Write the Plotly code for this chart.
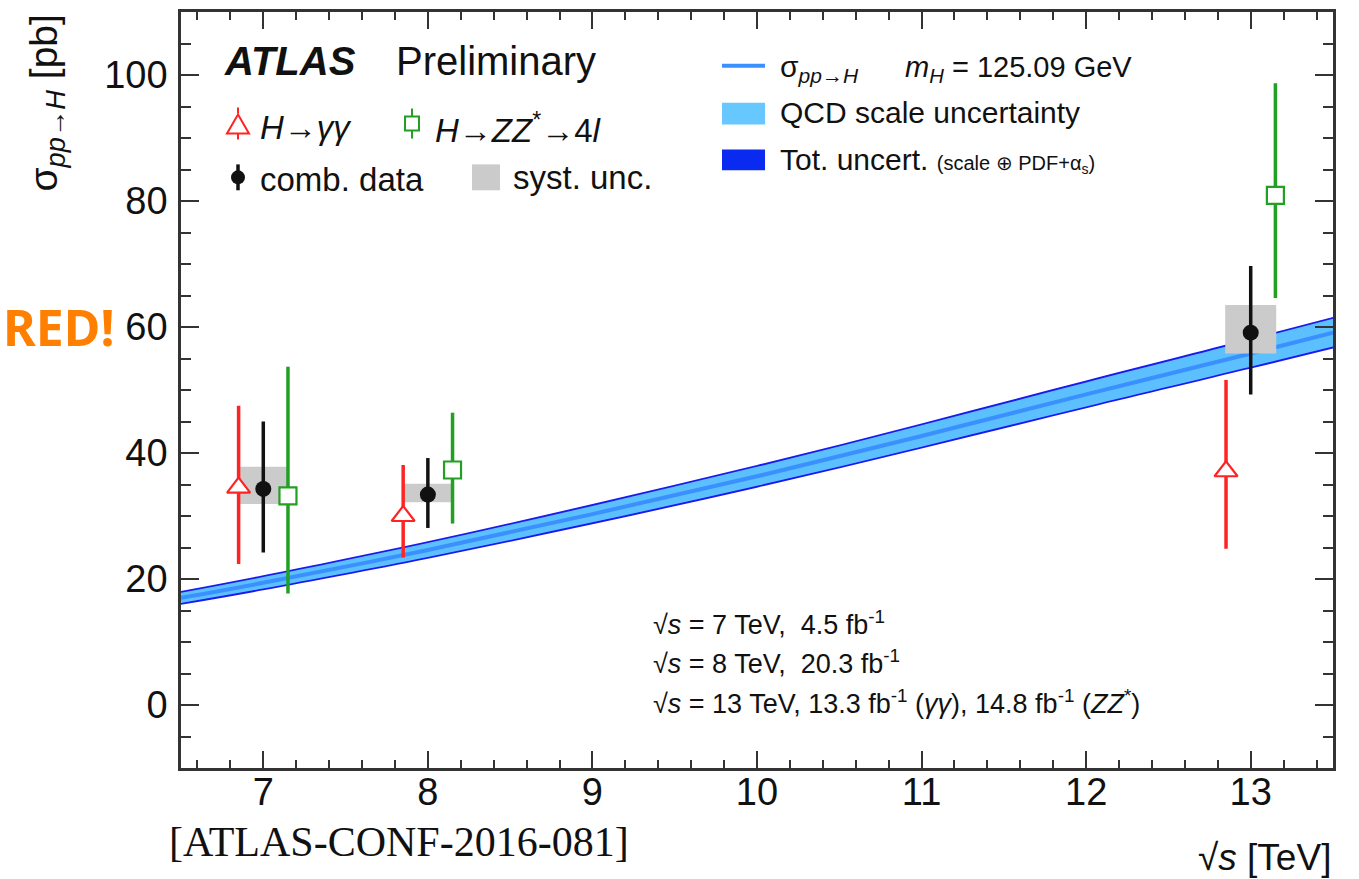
import plotly.graph_objects as go

# ---------------- data ----------------
energies = [7, 8, 13]                      # sqrt(s) [TeV]

comb_xsec = [34.3, 33.4, 59.1]             # combined data [pb]
comb_hi = [45.0, 39.2, 69.7]
comb_lo = [24.2, 28.1, 49.3]
syst_hi = [37.8, 35.1, 63.5]
syst_lo = [31.9, 32.2, 55.8]

gg_xsec = [34.5, 30.0, 37.1]               # H -> gamma gamma
gg_hi = [47.5, 38.1, 51.6]
gg_lo = [22.4, 23.4, 24.8]

zz_xsec = [33.2, 37.3, 80.9]               # H -> ZZ* -> 4l
zz_hi = [53.7, 46.4, 98.7]
zz_lo = [17.7, 28.8, 64.6]

theory_sqrts = [6.5, 7, 8, 9, 10, 11, 12, 13, 13.5]
theory_xsec = [17.0, 19.4, 24.6, 30.3, 36.3, 42.7, 49.3, 55.8, 59.1]
theory_tot_unc = [1.1, 1.2, 1.4, 1.6, 1.8, 2.0, 2.2, 2.4, 2.5]
theory_scale_unc = [0.8, 0.9, 1.1, 1.3, 1.5, 1.7, 1.9, 2.1, 2.2]

x_tick_vals = [7, 8, 9, 10, 11, 12, 13]
y_tick_vals = [0, 20, 40, 60, 80, 100]

# ---------------- style ----------------
OFFSET = 0.15
BOX_HALF = 0.155
RED = "#ff2424"
GREEN = "#22a022"
BLACK = "#111111"
GREY = "#cbcbcb"
DARKBLUE = "#1a1af0"
LIGHTBLUE = "#5cc0ff"
MIDBLUE = "#3a90ff"
FONT = "Liberation Sans, Arial, sans-serif"
AXCOL = "#333333"

W, H = 1359, 879
L, R, T, B = 181, 26, 9, 111
PW, PH = W - L - R, H - T - B


def px(xp):
    return (xp - L) / PW


def py(yp):
    return (H - B - yp) / PH


fig = go.Figure()

# theory band
tot_lo = [c - u for c, u in zip(theory_xsec, theory_tot_unc)]
tot_up = [c + u for c, u in zip(theory_xsec, theory_tot_unc)]
sc_lo = [c - u for c, u in zip(theory_xsec, theory_scale_unc)]
sc_up = [c + u for c, u in zip(theory_xsec, theory_scale_unc)]

common = dict(mode="lines", showlegend=False, hoverinfo="skip")
fig.add_trace(go.Scatter(x=theory_sqrts, y=tot_lo, line=dict(width=0, shape="spline"), **common))
fig.add_trace(go.Scatter(x=theory_sqrts, y=tot_up, fill="tonexty", fillcolor=DARKBLUE,
                         line=dict(width=0, shape="spline"), **common))
fig.add_trace(go.Scatter(x=theory_sqrts, y=sc_lo, line=dict(width=0, shape="spline"), **common))
fig.add_trace(go.Scatter(x=theory_sqrts, y=sc_up, fill="tonexty", fillcolor=LIGHTBLUE,
                         line=dict(width=0, shape="spline"), **common))
fig.add_trace(go.Scatter(x=theory_sqrts, y=theory_xsec, line=dict(width=4, color=MIDBLUE, shape="spline"),
                         **common))

# systematic boxes
bx, by = [], []
for e, lo, hi in zip(energies, syst_lo, syst_hi):
    bx += [e - BOX_HALF, e + BOX_HALF, e + BOX_HALF, e - BOX_HALF, e - BOX_HALF, None]
    by += [lo, lo, hi, hi, lo, None]
fig.add_trace(go.Scatter(x=bx, y=by, fill="toself", fillcolor=GREY, mode="lines",
                         line=dict(width=0, color=GREY), showlegend=False, hoverinfo="skip"))


def meas_trace(xs, ys, his, los, color, symbol, size, lw):
    return go.Scatter(
        x=xs, y=ys, mode="markers", showlegend=False,
        marker=dict(symbol=symbol, size=size, color="white" if lw else color,
                    line=dict(color=color, width=lw)),
        error_y=dict(type="data", symmetric=False,
                     array=[h - y for h, y in zip(his, ys)],
                     arrayminus=[y - l for l, y in zip(los, ys)],
                     color=color, thickness=3.5, width=0),
    )


fig.add_trace(meas_trace([e - OFFSET for e in energies], gg_xsec, gg_hi, gg_lo, RED, "triangle-up", 20, 2.2))
fig.add_trace(meas_trace([e + OFFSET for e in energies], zz_xsec, zz_hi, zz_lo, GREEN, "square", 17, 2.2))
fig.add_trace(meas_trace(energies, comb_xsec, comb_hi, comb_lo, BLACK, "circle", 16, 0))

# ---------------- axes ----------------
axis_common = dict(showline=True, linecolor=AXCOL, linewidth=2.5, mirror="allticks",
                   ticks="inside", tickcolor=AXCOL, tickwidth=2, showgrid=False, zeroline=False,
                   tickfont=dict(family=FONT, size=38, color=BLACK))
fig.update_xaxes(range=[6.5, 13.5], tickvals=x_tick_vals, ticklen=17, ticklabelstandoff=-11,
                 minor=dict(dtick=0.2, tick0=0, ticklen=8, tickwidth=2, tickcolor=AXCOL, ticks="inside"),
                 **axis_common)
fig.update_yaxes(range=[-10, 110], tickvals=y_tick_vals, ticklen=18, ticklabelstandoff=3,
                 minor=dict(dtick=5, tick0=0, ticklen=10, tickwidth=2, tickcolor=AXCOL, ticks="inside"),
                 **axis_common)

# ---------------- legend keys (decoration, paper coordinates) ----------------
shapes = []


def rect(x0, y0, x1, y1, fill, line=None, lw=0):
    shapes.append(dict(type="rect", xref="paper", yref="paper", x0=px(x0), x1=px(x1), y0=py(y1), y1=py(y0),
                       fillcolor=fill, line=dict(width=lw, color=line or fill), layer="above"))


def seg(x0, y0, x1, y1, color, w):
    shapes.append(dict(type="line", xref="paper", yref="paper", x0=px(x0), x1=px(x1), y0=py(y0), y1=py(y1),
                       line=dict(color=color, width=w), layer="above"))


# H->gg triangle
seg(238, 105, 238, 111, RED, 2)
seg(238, 131, 238, 137, RED, 2)
shapes.append(dict(type="path", xref="paper", yref="paper",
                   path=f"M {px(227)},{py(131)} L {px(249)},{py(131)} L {px(238)},{py(112)} Z",
                   fillcolor="white", line=dict(color=RED, width=2), layer="above"))
# H->ZZ square
seg(412, 106, 412, 114, GREEN, 2)
seg(412, 128, 412, 136, GREEN, 2)
rect(405, 114, 419, 128, "white", GREEN, 2)
# comb data dot
seg(238, 162, 238, 188, BLACK, 3.5)
shapes.append(dict(type="circle", xref="paper", yref="paper", x0=px(231), x1=px(245), y0=py(182), y1=py(168),
                   fillcolor=BLACK, line=dict(width=0), layer="above"))
# syst box
rect(472, 162, 500, 188, GREY)
# theory legend
seg(722, 63, 765, 63, MIDBLUE, 4)
rect(722, 100, 765, 122, "#66c8ff")
rect(722, 147, 765, 168, "#0a2af0")

# ---------------- text ----------------
ann = []


def text(x, y, s, size, xanchor="left", yanchor="middle", color=BLACK, family=FONT, angle=0):
    ann.append(dict(x=px(x), y=py(y), xref="paper", yref="paper", text=s, showarrow=False,
                    xanchor=xanchor, yanchor=yanchor, textangle=angle,
                    font=dict(family=family, size=size, color=color)))


text(222, 58, "<b><i>ATLAS</i></b>", 40)
text(394, 58, "Preliminary", 40)
text(258, 125, "<i>H</i>→<i>γγ</i>", 33)
text(433, 125, "<i>H</i>→<i>ZZ</i><sup>*</sup>→4<i>l</i>", 33)
text(258, 177, "comb. data", 33)
text(511, 175, "syst. unc.", 33)

text(778, 66, "σ<sub><i>pp</i>→<i>H</i></sub>", 30)
text(903, 66, "<i>m</i><sub><i>H</i></sub> = 125.09 GeV", 29)
text(778, 110, "QCD scale uncertainty", 30)
text(778, 158, "Tot. uncert. <span style='font-size:20px'>(scale ⊕ PDF+α<sub>s</sub>)</span>", 30)

text(651, 622, "√<i>s</i> = 7 TeV,\u00a0\u00a04.5 fb<sup>-1</sup>", 27)
text(651, 662, "√<i>s</i> = 8 TeV,\u00a0\u00a020.3 fb<sup>-1</sup>", 27)
text(651, 702, "√<i>s</i> = 13 TeV, 13.3 fb<sup>-1</sup> (<i>γγ</i>), 14.8 fb<sup>-1</sup> (<i>ZZ</i><sup>*</sup>)", 27)

text(1333, 858, "√<i>s</i> [TeV]", 37, xanchor="right")
text(46, 10, "σ<sub><i>pp</i>→<i>H</i></sub> [pb]", 39, xanchor="center", yanchor="top", angle=-90)
text(399, 842, "[ATLAS-CONF-2016-081]", 42, xanchor="center", family="Liberation Serif, Times New Roman, serif")
text(1, 325, "<b>RED!</b>", 50, xanchor="left",
     color="#ff8000", family="Liberation Sans Narrow, Noto Sans, DejaVu Sans, sans-serif")

fig.update_layout(width=W, height=H, autosize=False,
                  margin=dict(l=L, r=R, t=T, b=B, pad=0),
                  paper_bgcolor="white", plot_bgcolor="white",
                  shapes=shapes, annotations=ann, showlegend=False)

fig.write_html("out.html")
